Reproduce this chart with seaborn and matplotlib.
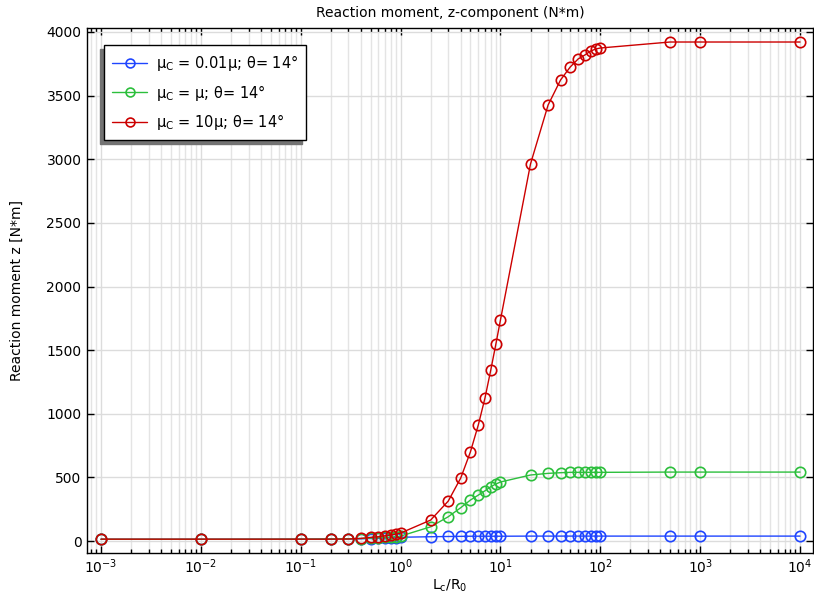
import numpy as np
import pandas as pd
import matplotlib
matplotlib.use("Agg")
import matplotlib.pyplot as plt
import seaborn as sns
from matplotlib.ticker import LogLocator, MultipleLocator, NullFormatter

# ---- data ----
x_vals = [0.001, 0.01, 0.1, 0.2, 0.3, 0.4, 0.5, 0.6, 0.7, 0.8, 0.9, 1,
          2, 3, 4, 5, 6, 7, 8, 9, 10,
          20, 30, 40, 50, 60, 70, 80, 90, 100,
          500, 1000, 10000]

blue_vals = [14, 14, 15, 16, 17, 18, 20, 22, 24, 26, 28, 30,
             34, 36, 37, 38, 38, 38, 38, 38, 38,
             39, 39, 39, 39, 39, 39, 39, 39, 39,
             39, 39, 39]

green_vals = [14, 14, 15, 16, 18, 20, 23, 26, 29, 32, 35, 39,
              112, 191, 262, 322, 361, 395, 427, 448, 464,
              519, 532, 537, 540, 540, 540, 540, 540, 540,
              542, 542, 542]

red_vals = [15, 15, 15, 15, 16, 21, 29, 34, 42, 47, 55, 63,
            165, 314, 495, 700, 912, 1124, 1344, 1548, 1737,
            2963, 3426, 3623, 3725, 3788, 3819, 3850, 3866, 3874,
            3921, 3921, 3921]

labels = [r"μ$_\mathrm{C}$ = 0.01μ; θ= 14°",
          r"μ$_\mathrm{C}$ = μ; θ= 14°",
          r"μ$_\mathrm{C}$ = 10μ; θ= 14°"]
colors = ["#1f45ff", "#2cbf3c", "#cc0000"]

title = "Reaction moment, z-component (N*m)"
ylabel = "Reaction moment z [N*m]"
xlabel = r"L$_\mathrm{c}$/R$_0$"

# ---- plot ----
sns.set_theme(style="white")
plt.rcParams["font.family"] = ["DejaVu Sans"]
plt.rcParams["mathtext.fontset"] = "dejavusans"
plt.rcParams["text.color"] = "black"
plt.rcParams["axes.labelcolor"] = "black"
plt.rcParams["xtick.color"] = "black"
plt.rcParams["ytick.color"] = "black"

fig = plt.figure(figsize=(8.14, 5.96), dpi=100)
ax = fig.add_axes([0.1069, 0.0721, 0.8919, 0.8809])

for vals, lab, col in zip([blue_vals, green_vals, red_vals], labels, colors):
    df = pd.DataFrame({"x": x_vals, "y": vals})
    sns.lineplot(data=df, x="x", y="y", ax=ax, color=col, label=lab,
                 marker="o", markersize=7.5, markerfacecolor="none",
                 markeredgecolor=col, markeredgewidth=1.2, linewidth=1.0,
                 sort=False, estimator=None)

ax.set_xscale("log")
ax.set_xlim(10 ** -3.14, 10 ** 4.13)
ax.set_ylim(-94, 4031)
ax.yaxis.set_major_locator(MultipleLocator(500))
ax.xaxis.set_major_locator(LogLocator(base=10, numticks=20))
ax.xaxis.set_minor_locator(LogLocator(base=10, subs=np.arange(2, 10), numticks=100))
ax.xaxis.set_minor_formatter(NullFormatter())

ax.grid(True, which="major", axis="both", color="#dcdcdc", linewidth=1.0)
ax.grid(True, which="minor", axis="x", color="#e4e4e4", linewidth=1.0)
ax.set_axisbelow(True)

for s in ax.spines.values():
    s.set_visible(True)
    s.set_color("black")
    s.set_linewidth(1.0)

ax.tick_params(which="both", direction="in", top=True, right=True,
               bottom=True, left=True, colors="black", labelcolor="black",
               labelsize=10)
ax.tick_params(which="major", length=5, width=1.0)
ax.tick_params(which="minor", length=3, width=1.0)
ax.tick_params(axis="x", which="major", pad=3)
ax.tick_params(axis="y", which="major", pad=4)

ax.set_title(title, fontsize=10, pad=8, color="black")
ax.set_ylabel(ylabel, fontsize=10, labelpad=16)
ax.set_xlabel(xlabel, fontsize=10, labelpad=1)

leg = ax.legend(loc="upper left", bbox_to_anchor=(0.0234, 0.9676),
                borderaxespad=0, fontsize=10.5,
                frameon=True, fancybox=False, edgecolor="black",
                framealpha=1.0, borderpad=0.55, labelspacing=0.65,
                handlelength=2.4, handletextpad=0.6, markerscale=0.85,
                shadow={"ox": -3, "oy": -3, "color": "0.45", "alpha": 1.0})
leg.get_frame().set_linewidth(1.0)
for t in leg.get_texts():
    t.set_color("black")

fig.savefig("out.png", dpi=100)
